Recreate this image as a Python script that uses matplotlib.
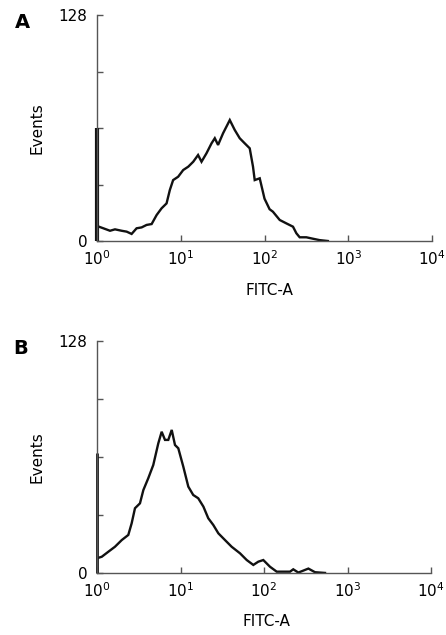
import matplotlib
matplotlib.use("Agg")
import matplotlib.pyplot as plt
from matplotlib.ticker import NullLocator

plt.rcParams["font.family"] = ["DejaVu Sans"]

# Panel A histogram (FITC-A intensity, events)
a_fitc = [1.0, 1.19, 1.43, 1.64, 1.97, 2.26, 2.59, 2.97, 3.41, 3.91, 4.49,
          5.15, 5.90, 6.77, 7.41, 8.11, 9.31, 10.7, 12.3, 14.1, 16.1, 17.7,
          20.3, 23.3, 25.5, 27.9, 32.0, 38.5, 44.1, 50.6, 58.1, 66.6, 72.9,
          76.4, 87.7, 100, 115, 126, 152, 182, 219, 240, 263, 316, 378, 455, 571]
a_events = [8.5, 7.2, 5.8, 6.6, 5.8, 5.3, 4.0, 7.2, 7.7, 9.1, 9.6,
            14.7, 18.5, 21.3, 28.9, 34.5, 36.4, 40.2, 42.1, 44.9, 48.7, 44.9,
            49.7, 55.3, 58.2, 54.4, 61.0, 68.5, 62.9, 58.2, 55.3, 52.5, 42.1,
            34.5, 35.5, 24.0, 18.0, 16.6, 11.9, 10.0, 8.1, 4.4, 2.1, 2.1, 1.3, 0.5, 0.0]
a_first_channel = 64

# Panel B histogram
b_fitc = [1.0, 1.14, 1.37, 1.64, 1.98, 2.37, 2.60, 2.85, 3.27, 3.59, 4.11,
          4.72, 5.42, 5.95, 6.52, 7.14, 7.85, 8.59, 9.41, 10.8, 12.4, 14.2,
          16.3, 18.8, 21.5, 24.7, 28.4, 34.1, 41.0, 51.6, 62.1, 74.5, 85.5,
          98.1, 118, 142, 205, 224, 258, 340, 408, 538]
b_events = [8.3, 9.1, 11.9, 14.6, 18.3, 21.1, 27.5, 35.8, 38.5, 45.8, 52.3,
            59.6, 71.5, 77.9, 73.4, 73.4, 78.9, 70.6, 68.8, 58.7, 47.7, 43.1,
            41.3, 36.7, 30.3, 26.6, 22.0, 18.3, 14.6, 11.0, 7.3, 4.6, 6.4,
            7.3, 3.6, 0.9, 0.9, 2.2, 0.4, 2.6, 0.6, 0.2]
b_first_channel = 66

y_ticks = [0, 32, 64, 96, 128]
y_labels = ["0", "", "", "", "128"]

W, H = 446, 635
fig = plt.figure(figsize=(W / 100, H / 100), dpi=100)


def px_axes(left, top, right, bottom):
    return fig.add_axes([left / W, 1 - bottom / H, (right - left) / W, (bottom - top) / H])


def style(ax, x, y, spike, spike_lw):
    ax.plot(x, y, color="#111111", lw=1.7, solid_joinstyle="miter")
    ax.vlines(1.0, 0, spike, color="#111111", lw=spike_lw, clip_on=False)
    ax.set_xscale("log")
    ax.set_xlim(1, 1e4)
    ax.set_ylim(0, 128)
    ax.set_xticks([1, 10, 100, 1000, 10000])
    ax.xaxis.set_minor_locator(NullLocator())
    ax.set_yticks(y_ticks)
    ax.set_yticklabels(y_labels)
    for s in ["top", "right"]:
        ax.spines[s].set_visible(False)
    for s in ["left", "bottom"]:
        ax.spines[s].set_color("#555555")
        ax.spines[s].set_linewidth(1.0)
    ax.tick_params(axis="both", direction="in", length=4.5, width=1.0,
                   color="#555555", labelsize=11)
    ax.tick_params(axis="x", pad=6)
    ax.tick_params(axis="y", pad=7)
    ax.text(-0.179, 0.5, "Events", transform=ax.transAxes, rotation=90,
            ha="center", va="center", fontsize=11)


ax_a = px_axes(97, 15, 432, 241)
style(ax_a, a_fitc, a_events, a_first_channel, 3.0)
ax_a.text(0.516, -0.217, "FITC-A", transform=ax_a.transAxes,
          ha="center", va="center", fontsize=11)

ax_b = px_axes(97, 340.7, 431, 573.3)
style(ax_b, b_fitc, b_events, b_first_channel, 2.0)
ax_b.text(0.508, -0.209, "FITC-A", transform=ax_b.transAxes,
          ha="center", va="center", fontsize=11)

fig.text(22 / W, 1 - 23 / H, "A", ha="center", va="center",
         fontsize=14, fontweight="bold")
fig.text(21 / W, 1 - 349 / H, "B", ha="center", va="center",
         fontsize=14, fontweight="bold")

fig.savefig("out.png", dpi=100)
